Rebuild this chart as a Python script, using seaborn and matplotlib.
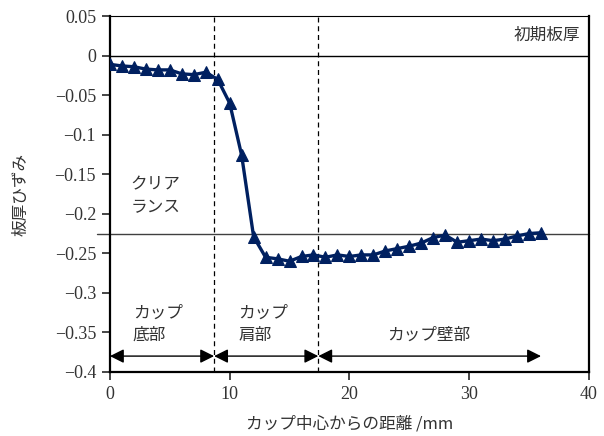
import numpy as np
import pandas as pd
import matplotlib
matplotlib.use("Agg")
import matplotlib.pyplot as plt
import seaborn as sns

# distance from cup centre (mm) and thickness strain
distance = [0, 1, 2, 3, 4, 5, 6, 7, 8, 9, 10, 11, 12, 13, 14, 15, 16, 17, 18,
            19, 20, 21, 22, 23, 24, 25, 26, 27, 28, 29, 30, 31, 32, 33, 34, 35, 36]
strain = [-0.011, -0.013, -0.014, -0.017, -0.018, -0.018, -0.023, -0.024, -0.021,
          -0.030, -0.060, -0.126, -0.229, -0.255, -0.257, -0.260, -0.254, -0.252,
          -0.255, -0.252, -0.254, -0.252, -0.252, -0.247, -0.244, -0.241, -0.237,
          -0.230, -0.227, -0.236, -0.234, -0.232, -0.234, -0.232, -0.228, -0.225, -0.224]

initial_thickness = 0.0
clearance = -0.225
region_edges = [0, 8.7, 17.4, 36]
region_labels = ["カップ\n底部", "カップ\n肩部", "カップ壁部"]
yticks = [0.05, 0, -0.05, -0.1, -0.15, -0.2, -0.25, -0.3, -0.35, -0.4]
ytick_labels = ["0.05", "0", "−0.05", "−0.1", "−0.15", "−0.2", "−0.25", "−0.3", "−0.35", "−0.4"]
xticks = [0, 10, 20, 30, 40]

df = pd.DataFrame({"distance": distance, "strain": strain})

sns.set_style("ticks")
plt.rcParams["font.family"] = ["Noto Sans CJK JP", "DejaVu Sans"]
plt.rcParams["axes.unicode_minus"] = False

fig = plt.figure(figsize=(6.04, 4.36), dpi=100)
ax = fig.add_axes([0.182, 0.147, 0.793, 0.816])

txt = "#333333"

# reference lines
ax.axhline(initial_thickness, color="black", lw=1.0, zorder=1)
ax.plot([-1.1, 40], [clearance, clearance], color="#404040", lw=1.0,
        clip_on=False, zorder=1)
for xv in region_edges[1:3]:
    ax.axvline(xv, color="black", lw=0.9, ls=(0, (4, 3)), zorder=1)

sns.lineplot(data=df, x="distance", y="strain", ax=ax, color="#002060",
             lw=2.4, marker="^", markersize=9, markeredgecolor="#002060",
             zorder=3)

# region arrows
ya = -0.38
for a, b in zip(region_edges[:-1], region_edges[1:]):
    ax.annotate("", xy=(b, ya), xytext=(a, ya),
                arrowprops=dict(arrowstyle="<|-|>", color="black", lw=1.0,
                                mutation_scale=21, shrinkA=0, shrinkB=0))

fs = 12
ax.text(1.9, -0.34, region_labels[0], fontsize=fs, color=txt, ha="left",
        va="center", linespacing=1.4)
ax.text(10.7, -0.34, region_labels[1], fontsize=fs, color=txt, ha="left",
        va="center", linespacing=1.4)
ax.text(26.6, -0.354, region_labels[2], fontsize=fs, color=txt, ha="center",
        va="center")
ax.text(1.7, -0.178, "クリア\nランス", fontsize=fs, color=txt, ha="left",
        va="center", linespacing=1.4)
ax.text(39.3, 0.026, "初期板厚", fontsize=fs, color=txt, ha="right",
        va="center")

ax.set_xlim(0, 40)
ax.set_ylim(-0.4, 0.05)
ax.set_xticks(xticks)
ax.set_yticks(yticks)
ax.set_yticklabels(ytick_labels)
ax.tick_params(axis="both", direction="out", length=6, width=1.2,
               labelsize=13, labelcolor=txt, pad=4)
for lab in ax.get_xticklabels() + ax.get_yticklabels():
    lab.set_family(["Liberation Serif", "DejaVu Serif"])

ax.set_xlabel("カップ中心からの距離 /mm", fontsize=fs, color=txt, labelpad=9)
ax.set_ylabel("板厚ひずみ", fontsize=fs, color=txt, labelpad=18)

for side in ["left", "bottom", "right"]:
    ax.spines[side].set_linewidth(1.6)
    ax.spines[side].set_color("black")
ax.spines["top"].set_linewidth(0.8)
ax.spines["top"].set_color("black")

fig.savefig("out.png", dpi=100)
